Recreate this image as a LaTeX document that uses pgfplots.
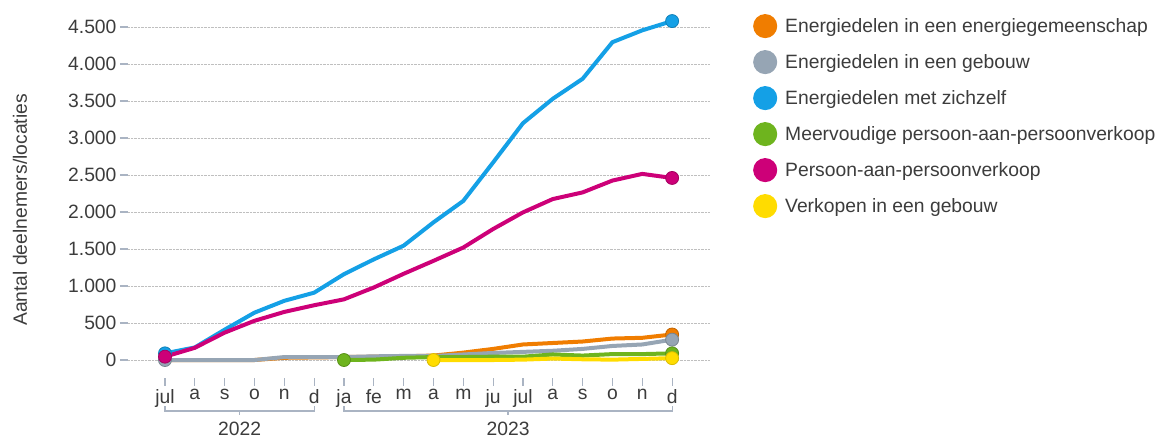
\documentclass[border=0pt]{standalone}
\usepackage{fontspec}
\setmainfont{Liberation Sans}
\usepackage{pgfplots}
\pgfplotsset{compat=1.18}

\definecolor{cOrange}{RGB}{240,125,0}
\definecolor{cGrey}{RGB}{150,165,180}
\definecolor{cBlue}{RGB}{20,160,230}
\definecolor{cGreen}{RGB}{110,180,30}
\definecolor{cMagenta}{RGB}{205,0,120}
\definecolor{cYellow}{RGB}{255,220,0}
\definecolor{txt}{RGB}{60,60,60}
\definecolor{tickc}{RGB}{170,180,195}

\begin{document}
\begin{tikzpicture}
\begin{axis}[
    at={(128pt,61pt)}, anchor=south west,
    scale only axis,
    width=582pt, height=362.1pt,
    xmin=-1.24, xmax=18.27,
    ymin=-243, ymax=4650,
    clip=false,
    axis line style={draw=none},
    tick pos=left,
    tick align=outside,
    major tick length=8pt,
    xtick={0,...,17},
    xticklabels={jul,a,s,o,n,d,ja,fe,m,a,m,ju,jul,a,s,o,n,d},
    ytick={0,500,...,4500},
    tick style={draw=tickc, line width=1.2pt},
    ymajorgrids,
    grid style={densely dotted, draw=gray!50, line width=0.9pt},
    /pgf/number format/.cd, 1000 sep={.}, assume math mode=true,
    /pgfplots/.cd,
    tick label style={font=\fontsize{19.3}{22}\selectfont, text=txt},
    ylabel={Aantal deelnemers/locaties},
    every axis y label/.style={at={(axis description cs:-0.1856,0.464)}, rotate=90, anchor=center,
        font=\fontsize{19.3}{22}\selectfont, text=txt},
    every axis plot/.append style={line width=4pt, line join=round, line cap=round},
    legend cell align=left,
    legend image code/.code={\fill[#1] (10pt,0pt) circle (10pt);},
    legend style={at={(axis description cs:1,1)}, anchor=north west, xshift=43pt, yshift=2pt,
        draw=none, fill=none, inner sep=0pt, row sep=12pt,
        font=\fontsize{19.3}{22}\selectfont, text=txt,
        nodes={inner sep=2pt},
        /tikz/every odd column/.style={column sep=6pt}},
]

% Energiedelen in een energiegemeenschap
\addplot[cOrange, mark=*, mark indices={18}, mark options={mark size=6.5pt, line width=0.8pt, draw=cOrange!80!black, fill=cOrange}] coordinates {
(0,0) (1,0) (2,0) (3,0) (4,30) (5,35) (6,40) (7,45) (8,50) (9,60) (10,100) (11,150) (12,210) (13,230) (14,250) (15,290) (16,300) (17,345)
};
\addlegendentry{Energiedelen in een energiegemeenschap}

% Energiedelen in een gebouw
\addplot[cGrey, mark=*, mark indices={1,18}, mark options={mark size=6.5pt, line width=0.8pt, draw=cGrey!80!black, fill=cGrey}] coordinates {
(0,0) (1,0) (2,0) (3,0) (4,40) (5,40) (6,40) (7,50) (8,55) (9,55) (10,75) (11,95) (12,110) (13,125) (14,150) (15,190) (16,210) (17,275)
};
\addlegendentry{Energiedelen in een gebouw}

% Energiedelen met zichzelf
\addplot[cBlue, mark=*, mark indices={1,18}, mark options={mark size=6.5pt, line width=0.8pt, draw=cBlue!80!black, fill=cBlue}] coordinates {
(0,90) (1,170) (2,410) (3,640) (4,800) (5,910) (6,1160) (7,1360) (8,1545) (9,1860) (10,2150) (11,2670) (12,3200) (13,3530) (14,3800) (15,4295) (16,4455) (17,4580)
};
\addlegendentry{Energiedelen met zichzelf}

% Meervoudige persoon-aan-persoonverkoop
\addplot[cGreen, mark=*, mark indices={1,12}, mark options={mark size=6.5pt, line width=0.8pt, draw=cGreen!80!black, fill=cGreen}] coordinates {
(6,0) (7,5) (8,30) (9,40) (10,40) (11,45) (12,45) (13,75) (14,60) (15,80) (16,80) (17,90)
};
\addlegendentry{Meervoudige persoon-aan-persoonverkoop}

% Persoon-aan-persoonverkoop
\addplot[cMagenta, mark=*, mark indices={1,18}, mark options={mark size=6.5pt, line width=0.8pt, draw=cMagenta!80!black, fill=cMagenta}] coordinates {
(0,45) (1,165) (2,370) (3,530) (4,650) (5,740) (6,820) (7,980) (8,1165) (9,1340) (10,1520) (11,1770) (12,1995) (13,2175) (14,2265) (15,2425) (16,2515) (17,2460)
};
\addlegendentry{Persoon-aan-persoonverkoop}

% Verkopen in een gebouw
\addplot[cYellow, mark=*, mark indices={1,9}, mark options={mark size=6.5pt, line width=0.8pt, draw=cYellow!85!black, fill=cYellow}] coordinates {
(9,0) (10,0) (11,0) (12,5) (13,20) (14,10) (15,5) (16,15) (17,25)
};
\addlegendentry{Verkopen in een gebouw}

% year brackets
\draw[tickc, line width=1.2pt] (axis cs:0,-625) -- (axis cs:0,-690) -- (axis cs:5,-690) -- (axis cs:5,-625);
\draw[tickc, line width=1.2pt] (axis cs:2.5,-690) -- (axis cs:2.5,-740);
\draw[tickc, line width=1.2pt] (axis cs:6,-625) -- (axis cs:6,-690) -- (axis cs:17,-690) -- (axis cs:17,-625);
\draw[tickc, line width=1.2pt] (axis cs:11.5,-690) -- (axis cs:11.5,-740);
\node[inner sep=0pt, font=\fontsize{19.3}{22}\selectfont, text=txt] at (axis cs:2.5,-925) {2022};
\node[inner sep=0pt, font=\fontsize{19.3}{22}\selectfont, text=txt] at (axis cs:11.5,-925) {2023};
\end{axis}
\pgfresetboundingbox
\path (0,0) rectangle (1162pt,439pt);
\end{tikzpicture}
\end{document}
